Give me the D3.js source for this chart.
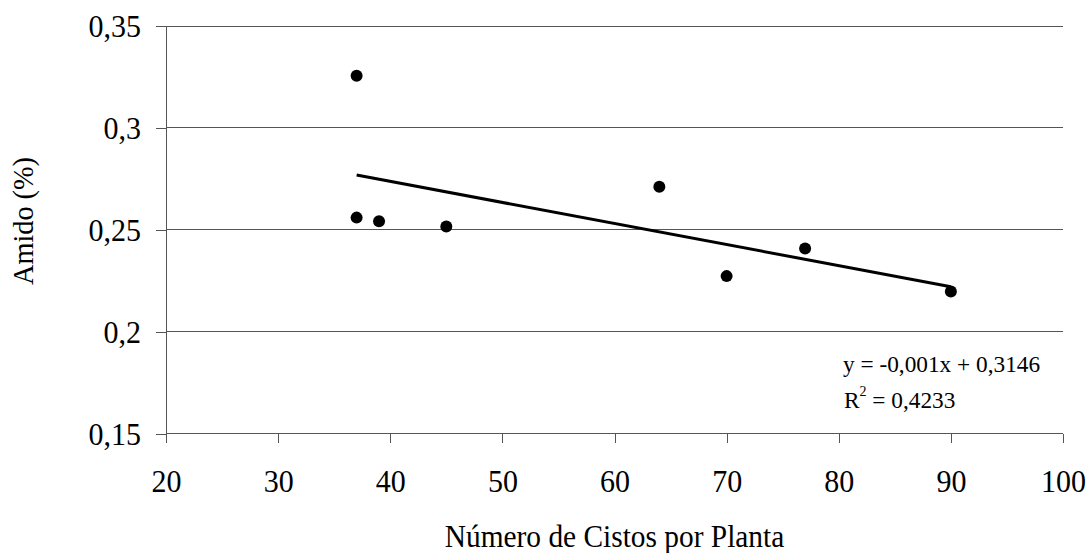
<!DOCTYPE html>
<html>
<head>
<meta charset="utf-8">
<script src="https://cdn.jsdelivr.net/npm/d3@7"></script>
<style>
  html, body { margin: 0; padding: 0; background: #fff; }
  svg { display: block; font-family: "Liberation Serif", "Times New Roman", serif; }
</style>
</head>
<body>
<svg id="chart" width="1090" height="553"></svg>
<script>
// Number of cysts per plant vs. starch content
const cistos = [37, 37, 39, 45, 64, 70, 77, 90];
const amido  = [0.3256, 0.256, 0.2542, 0.2517, 0.2712, 0.2273, 0.2408, 0.2198];
const xTicks = [20, 30, 40, 50, 60, 70, 80, 90, 100];
const yTicks = [0.15, 0.2, 0.25, 0.3, 0.35];
const equationText = "y = -0,001x + 0,3146";
const r2Value = "0,4233";

const svg = d3.select("#chart");
const margin = { left: 166, right: 1090 - 1063, top: 26, bottom: 553 - 433.7 };

const x = d3.scaleLinear().domain([20, 100]).range([margin.left, 1090 - margin.right]);
const y = d3.scaleLinear().domain([0.15, 0.35]).range([553 - margin.bottom, margin.top]);

const fmt = d => String(+d.toFixed(2)).replace(".", ",");
const gridColor = "#555";
const serif = "'Liberation Serif', 'Times New Roman', serif";

// horizontal gridlines
svg.append("g")
  .selectAll("line")
  .data(yTicks.filter(t => t > 0.15))
  .join("line")
  .attr("x1", x(20)).attr("x2", x(100))
  .attr("y1", d => y(d)).attr("y2", d => y(d))
  .attr("stroke", gridColor).attr("stroke-width", 1)
  .attr("shape-rendering", "crispEdges");

// y axis
const yAxis = svg.append("g")
  .attr("transform", `translate(${x(20)},0)`)
  .call(d3.axisLeft(y).tickValues(yTicks).tickFormat(fmt).tickSize(10));
// x axis
const xAxis = svg.append("g")
  .attr("transform", `translate(0,${y(0.15)})`)
  .call(d3.axisBottom(x).tickValues(xTicks).tickFormat(d3.format("d")).tickSize(9));

[yAxis, xAxis].forEach(g => {
  g.select(".domain").attr("stroke", gridColor).attr("stroke-width", 1).attr("shape-rendering", "crispEdges");
  g.selectAll(".tick line").attr("stroke", gridColor).attr("shape-rendering", "crispEdges");
  g.selectAll(".tick text")
    .attr("fill", "#000")
    .style("font-family", serif)
    .style("font-size", "30px");
});
// tick labels placed by baseline, slightly tall glyphs
yAxis.selectAll(".tick text")
  .attr("x", 0).attr("y", 0).attr("dy", null)
  .attr("text-anchor", "end")
  .attr("transform", "translate(-25,10.8) scale(1,1.08)");
xAxis.selectAll(".tick text")
  .attr("x", 0).attr("y", 0).attr("dy", null)
  .attr("text-anchor", "middle")
  .attr("transform", "translate(0,58) scale(1,1.08)");

// axis lines without outer end caps
xAxis.select(".domain").attr("d", `M${x(20)},0H${x(100)}`);
yAxis.select(".domain").attr("d", `M0,${y(0.15)}V${y(0.35)}`);

// least-squares trend line
const n = cistos.length;
const mx = d3.mean(cistos), my = d3.mean(amido);
let sxy = 0, sxx = 0;
for (let i = 0; i < n; i++) {
  sxy += (cistos[i] - mx) * (amido[i] - my);
  sxx += (cistos[i] - mx) ** 2;
}
const slope = sxy / sxx;
const intercept = my - slope * mx;
const [xMin, xMax] = d3.extent(cistos);

svg.append("line")
  .attr("x1", x(xMin)).attr("y1", y(intercept + slope * xMin))
  .attr("x2", x(xMax)).attr("y2", y(intercept + slope * xMax))
  .attr("stroke", "#000").attr("stroke-width", 3);

// observations
svg.append("g")
  .selectAll("circle")
  .data(cistos.map((c, i) => [c, amido[i]]))
  .join("circle")
  .attr("cx", d => x(d[0]))
  .attr("cy", d => y(d[1]))
  .attr("r", 6)
  .attr("fill", "#000");

// regression equation
svg.append("text")
  .attr("x", 843).attr("y", 372)
  .style("font-size", "23.3px")
  .text(equationText);

const r2 = svg.append("text")
  .attr("x", 844).attr("y", 408)
  .style("font-size", "23.3px");
r2.append("tspan").text("R");
r2.append("tspan").attr("dy", -12).style("font-size", "14px").text("2");
r2.append("tspan").attr("dy", 12).text(" = " + r2Value);

// axis titles
svg.append("text")
  .attr("transform", `translate(${(x(20) + x(100)) / 2},546.7) scale(1,1.1)`)
  .attr("text-anchor", "middle")
  .style("font-size", "29.4px")
  .text("Número de Cistos por Planta");

svg.append("text")
  .attr("transform", "translate(33,221) rotate(-90) scale(1,1.07)")
  .attr("text-anchor", "middle")
  .style("font-size", "28.3px")
  .text("Amido (%)");
</script>
</body>
</html>
